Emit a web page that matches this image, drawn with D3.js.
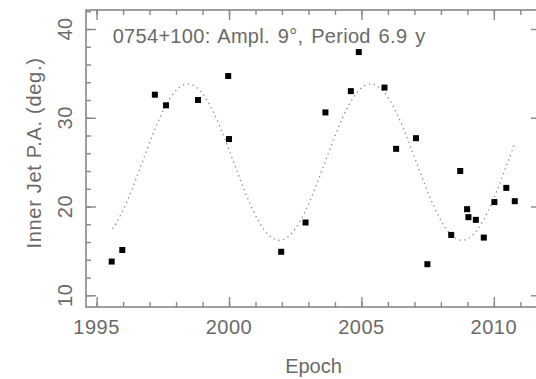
<!DOCTYPE html>
<html>
<head>
<meta charset="utf-8">
<script src="https://cdn.jsdelivr.net/npm/d3@7"></script>
<style>
  html, body { margin: 0; padding: 0; background: #fff; }
  #chart { width: 536px; height: 379px; overflow: hidden; }
  svg { display: block; font-family: "Liberation Sans", Arial, sans-serif; }
  .axis path, .axis line { stroke: #888; }
  .label { fill: #6a6a6a; font-size: 20px; }
</style>
</head>
<body>
<div id="chart"></div>
<script>
// observations: epoch (yr) and inner jet position angle (deg)
const epochs = [
  1995.57, 1995.97, 1997.20, 1997.62, 1998.83, 1999.97, 2000.00,
  2001.97, 2002.89, 2003.64, 2004.60, 2004.90, 2005.87, 2006.31,
  2007.06, 2007.49, 2008.39, 2008.73, 2008.99, 2009.04, 2009.32,
  2009.62, 2010.02, 2010.47, 2010.79,
];
const innerPA = [
  13.8, 15.1, 32.6, 31.4, 32.0, 34.7, 27.6,
  14.9, 18.2, 30.6, 33.0, 37.4, 33.4, 26.5,
  27.7, 13.5, 16.8, 24.0, 19.7, 18.8, 18.5,
  16.5, 20.5, 22.1, 20.6,
];

// sinusoid fit shown dotted
const fitMean = 25.0;
const fitAmplitude = 8.8;
const fitPeriod = 6.9;
const fitPeakEpoch = 1998.45;
const fitRange = [1995.6, 2010.8];

const xMajorTicks = [1995, 2000, 2005, 2010];
const xMinorTicks = d3.range(1995, 2012, 1);
const yMajorTicks = [10, 20, 30, 40];
const yMinorTicks = d3.range(10, 43, 2);

const title = "0754+100: Ampl. 9°, Period 6.9 y";
const xLabel = "Epoch";
const yLabel = "Inner Jet P.A. (deg.)";

class FitPlot {
  constructor(el) {
    this.el = el;
    this.width = 536;
    this.height = 379;
    this.margin = { top: 10, right: -5, bottom: 72, left: 86 };
    this.majorTick = 10;
    this.minorTick = 5;
    this.setup();
    this.render();
  }

  setup() {
    this.x = d3.scaleLinear()
      .domain([1994.6, 2011.78])
      .range([this.margin.left, this.width - this.margin.right]);
    this.y = d3.scaleLinear()
      .domain([8.68, 42.14])
      .range([this.height - this.margin.bottom, this.margin.top]);
    this.svg = d3.select(this.el).append("svg")
      .attr("width", this.width)
      .attr("height", this.height);
  }

  render() {
    this.renderFrame();
    this.renderFit();
    this.renderPoints();
    this.renderLabels();
  }

  renderFrame() {
    const [x0, x1] = this.x.range();
    const [y0, y1] = this.y.range();
    const g = this.svg.append("g").attr("class", "axis");

    const axes = [
      [d3.axisBottom(this.x), `translate(0,${y0})`, xMinorTicks, xMajorTicks],
      [d3.axisTop(this.x), `translate(0,${y1})`, xMinorTicks, xMajorTicks],
      [d3.axisLeft(this.y), `translate(${x0},0)`, yMinorTicks, yMajorTicks],
      [d3.axisRight(this.y), `translate(${x1},0)`, yMinorTicks, yMajorTicks],
    ];
    axes.forEach(([axis, tr, minor, major]) => {
      g.append("g").attr("transform", tr)
        .call(axis.tickValues(minor).tickSize(-this.minorTick).tickFormat(""))
        .call((s) => s.select(".domain").remove());
      g.append("g").attr("transform", tr)
        .call(axis.tickValues(major).tickSize(-this.majorTick).tickFormat(""))
        .call((s) => s.select(".domain").remove());
    });
    g.selectAll("line").attr("stroke-width", 1.4);

    g.append("rect")
      .attr("x", x0).attr("y", y1)
      .attr("width", x1 - x0).attr("height", y0 - y1)
      .attr("fill", "none")
      .attr("stroke", "#888")
      .attr("stroke-width", 1.6);

    g.selectAll(".xlab")
      .data(xMajorTicks)
      .join("text")
      .attr("class", "label")
      .attr("x", (d) => this.x(d))
      .attr("y", y0 + 26.5)
      .attr("text-anchor", "middle")
      .attr("letter-spacing", 0.5)
      .text((d) => d);

    g.selectAll(".ylab")
      .data(yMajorTicks)
      .join("text")
      .attr("class", "label")
      .attr("transform", (d) => `translate(${x0 - 14},${this.y(d)}) rotate(-90)`)
      .attr("text-anchor", "middle")
      .attr("letter-spacing", 0.5)
      .text((d) => d);
  }

  renderFit() {
    const fit = (t) =>
      fitMean + fitAmplitude * Math.cos((2 * Math.PI * (t - fitPeakEpoch)) / fitPeriod);
    const ts = d3.range(fitRange[0], fitRange[1], 0.02).concat([fitRange[1]]);
    const line = d3.line()
      .x((t) => this.x(t))
      .y((t) => this.y(fit(t)));
    this.svg.append("path")
      .attr("d", line(ts))
      .attr("fill", "none")
      .attr("stroke", "#888")
      .attr("stroke-width", 1.3)
      .attr("stroke-dasharray", "1.3 3.6");
  }

  renderPoints() {
    const s = 6;
    this.svg.append("g")
      .selectAll("rect")
      .data(epochs)
      .join("rect")
      .attr("x", (d) => this.x(d) - s / 2)
      .attr("y", (d, i) => this.y(innerPA[i]) - s / 2)
      .attr("width", s)
      .attr("height", s)
      .attr("fill", "#000");
  }

  renderLabels() {
    const [x0, x1] = this.x.range();
    this.svg.append("text")
      .attr("class", "label")
      .attr("x", 112.7)
      .attr("y", 43.3)
      .attr("word-spacing", 2)
      .attr("letter-spacing", 0.3)
      .text(title);
    this.svg.append("text")
      .attr("class", "label")
      .attr("x", (x0 + x1) / 2)
      .attr("y", 373)
      .attr("text-anchor", "middle")
      .text(xLabel);
    this.svg.append("text")
      .attr("class", "label")
      .attr("transform", `translate(41,153) rotate(-90)`)
      .attr("text-anchor", "middle")
      .attr("letter-spacing", 0.7)
      .text(yLabel);
  }
}

new FitPlot(document.getElementById("chart"));
</script>
</body>
</html>
